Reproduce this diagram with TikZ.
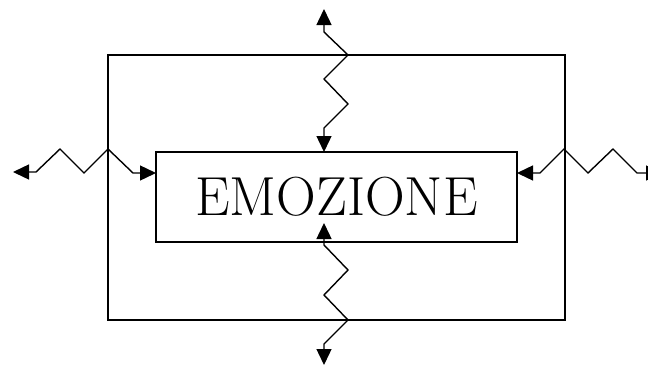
\documentclass[tikz,border=0pt]{standalone}
\usetikzlibrary{arrows.meta}
\begin{document}
\begin{tikzpicture}[x=1pt,y=-1pt,
  box/.style={draw,line width=1.4pt,inner sep=0pt,outer sep=0pt},
  zz/.style={line width=1.4pt,line join=miter,{Triangle[length=16pt,width=15pt]}-{Triangle[length=16pt,width=15pt]}}]
\useasboundingbox (0,0) rectangle (648,367);
\clip (0,0) rectangle (648,367);
\node[box,minimum width=457pt,minimum height=265pt] (outer) at (336.5,187.5) {};
\node[box,fill=white,minimum width=361pt,minimum height=90pt,font=\fontsize{55}{60}\selectfont] (emo) at (336.5,197) {EMOZIONE};
% free ends
\coordinate (tT) at (324,9);
\coordinate (tB) at (324,365);
\coordinate (tL) at (13,172);
\coordinate (tR) at (662,173);
\coordinate (eT) at (emo.north -| tT);
\coordinate (eL) at (emo.west |- 0,173);
\coordinate (eR) at (emo.east |- 0,173);
\coordinate (eB) at (324,223);
% top
\draw[zz] (tT) -- (324,32) -- (348,55) -- (324,79) -- (348,104) -- (324,128) -- (eT);
% bottom
\draw[zz] (eB) -- (324,245) -- (348,270) -- (324,295) -- (348,320) -- (324,344) -- (tB);
% left
\draw[zz] (tL) -- (36,172) -- (60,149) -- (84,173) -- (108,149) -- (133,173) -- (eL);
% right
\draw[zz] (eR) -- (540,173) -- (564,149) -- (588,173) -- (613,149) -- (637,173) -- (tR);
\end{tikzpicture}
\end{document}
